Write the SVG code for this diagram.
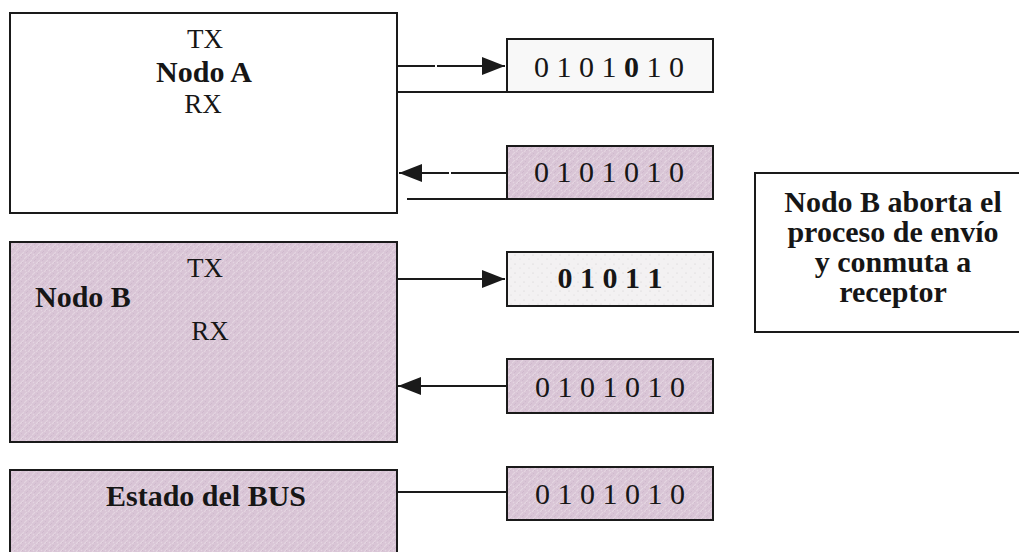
<svg xmlns="http://www.w3.org/2000/svg" width="1019" height="552" viewBox="0 0 1019 552">
  <defs>
    <!-- grainy lavender-pink fill used by the shaded boxes -->
    <pattern id="pinkGrain" patternUnits="userSpaceOnUse" width="8" height="8">
      <rect width="8" height="8" fill="#d9c5d6"/>
      <path d="M0,3 L3,0 M4,8 L8,4 M1,7 L2,6" stroke="#e4d5e1" stroke-width="1.2"/>
      <path d="M2,5 L4,3 M5,2 L6,1 M6,7 L7,6" stroke="#cdb7ca" stroke-width="0.8"/>
    </pattern>
    <pattern id="lightGrain" patternUnits="userSpaceOnUse" width="9" height="9">
      <rect width="9" height="9" fill="#f3f1f2"/>
      <circle cx="2" cy="3" r="0.6" fill="#cfcccd"/>
      <circle cx="7" cy="7" r="0.5" fill="#d6d3d5"/>
    </pattern>
    <marker id="arrow" markerUnits="userSpaceOnUse" viewBox="0 0 23 18" refX="23" refY="9" markerWidth="23" markerHeight="18" orient="auto">
      <path d="M0,0 L23,9 L0,18 Z" fill="#1a1a1a"/>
    </marker>
  </defs>
  <style>
    .box { stroke: #1a1a1a; stroke-width: 2; }
    .white { fill: #ffffff; }
    .pale { fill: #f8f8f8; }
    .pink { fill: url(#pinkGrain); }
    .speck { fill: url(#lightGrain); }
    .lbl { font-family: "Liberation Serif", "Times New Roman", serif; fill: #161616; }
    .big { font-size: 27px; }
    .bold { font-size: 30px; font-weight: bold; }
    .bits { font-size: 30px; }
    .wire { stroke: #1a1a1a; stroke-width: 2; fill: none; }
  </style>

  <rect width="1019" height="552" fill="#ffffff"/>

  <!-- transmitting node A -->
  <g id="nodo-a">
    <rect class="box white" x="10" y="13" width="387" height="200"/>
    <text class="lbl big" x="205" y="48" text-anchor="middle">TX</text>
    <text class="lbl bold" x="204" y="82" text-anchor="middle" font-size="29">Nodo A</text>
    <text class="lbl big" x="203" y="113" text-anchor="middle">RX</text>
  </g>

  <!-- bits sent by node A -->
  <g id="tx-a">
    <rect class="box pale" x="507" y="39" width="206" height="53"/>
    <text class="lbl bits" x="609" y="77" text-anchor="middle">0 1 0 1 <tspan font-weight="bold">0</tspan> 1 0</text>
  </g>

  <!-- bits read back by node A -->
  <g id="rx-a">
    <rect class="box pink" x="507" y="146" width="206" height="53"/>
    <text class="lbl bits" x="609" y="182" text-anchor="middle">0 1 0 1 0 1 0</text>
  </g>

  <!-- node B, shaded -->
  <g id="nodo-b">
    <rect class="box pink" x="10" y="242" width="387" height="200"/>
    <text class="lbl big" x="205" y="277" text-anchor="middle">TX</text>
    <text class="lbl bold" x="35" y="307">Nodo B</text>
    <text class="lbl big" x="210" y="340" text-anchor="middle">RX</text>
  </g>

  <!-- bits sent by node B until it stops -->
  <g id="tx-b">
    <rect class="box speck" x="507" y="252" width="206" height="54"/>
    <text class="lbl bits" x="610" y="288" text-anchor="middle" font-weight="bold">0 1 0 1 1</text>
  </g>

  <!-- bits read back by node B -->
  <g id="rx-b">
    <rect class="box pink" x="507" y="359" width="206" height="54"/>
    <text class="lbl bits" x="610" y="397" text-anchor="middle">0 1 0 1 0 1 0</text>
  </g>

  <!-- resulting bus level -->
  <g id="estado-bus">
    <rect class="box pink" x="10" y="470" width="387" height="95"/>
    <text class="lbl bold" x="206" y="506" text-anchor="middle">Estado del BUS</text>
  </g>

  <g id="bus-bits">
    <rect class="box pink" x="507" y="467" width="206" height="53"/>
    <text class="lbl bits" x="610" y="504" text-anchor="middle">0 1 0 1 0 1 0</text>
  </g>

  <!-- explanatory note -->
  <g id="nota">
    <rect class="box white" x="755" y="173" width="280" height="159"/>
    <text class="lbl bold" x="893" y="212" text-anchor="middle">Nodo B aborta el</text>
    <text class="lbl bold" x="893" y="242" text-anchor="middle">proceso de envío</text>
    <text class="lbl bold" x="893" y="272" text-anchor="middle">y conmuta a</text>
    <text class="lbl bold" x="893" y="302" text-anchor="middle">receptor</text>
  </g>

  <!-- connectors -->
  <g id="connectors">
    <path class="wire" d="M397,66 H435"/>
    <path class="wire" d="M437,66 H505" marker-end="url(#arrow)"/>
    <path class="wire" d="M397,92 H507"/>
    <path class="wire" d="M507,173 H451"/>
    <path class="wire" d="M449,173 H399" marker-end="url(#arrow)"/>
    <path class="wire" d="M407,199 H507"/>
    <path class="wire" d="M397,279 H505" marker-end="url(#arrow)"/>
    <path class="wire" d="M507,386 H398" marker-end="url(#arrow)"/>
    <path class="wire" d="M397,492 H507"/>
  </g>
</svg>
